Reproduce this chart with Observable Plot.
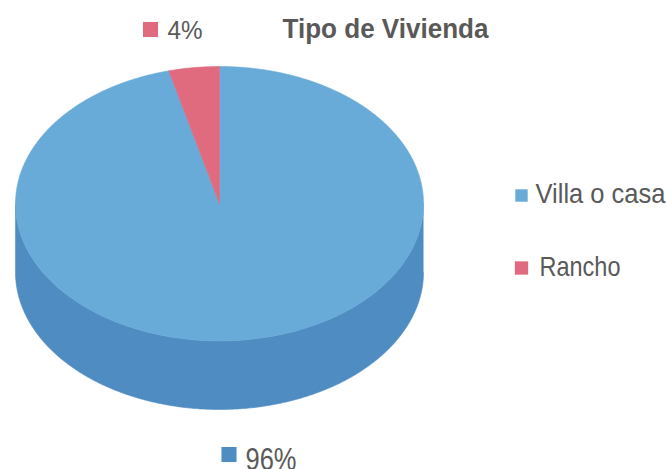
<!DOCTYPE html>
<html><head><meta charset="utf-8">
<script src="https://cdn.jsdelivr.net/npm/d3@7"></script>
<script src="https://cdn.jsdelivr.net/npm/@observablehq/plot@0.6"></script>
<style>
body{margin:0;background:#fff;}
#chart{width:666px;height:469px;}
</style></head><body><div id="chart"></div>
<script>
const title = "Tipo de Vivienda";
const categories = ["Villa o casa", "Rancho"];
const values = [96, 4];
const topColors = ["#68abd9", "#e06b7e"];
const sideColors = ["#4f8cc2", "#b8505f"];
const textColor = "#595959";
const font = '"Liberation Sans","Arial",sans-serif';

const depth = 0.5;
const arcs = d3.pie().sort(null)(values);
const topPts = [], sidePts = [];
arcs.forEach((a, i) => {
  const n = Math.max(2, Math.ceil((a.endAngle - a.startAngle) / 0.01));
  topPts.push({id: i, x: 0, y: 0, fill: topColors[i]});
  for (let k = 0; k <= n; k++) {
    const t = a.startAngle + (a.endAngle - a.startAngle) * k / n;
    topPts.push({id: i, x: Math.sin(t), y: Math.cos(t), fill: topColors[i]});
  }
  topPts.push({id: i, x: 0, y: 0, fill: topColors[i]});
  const s = Math.max(a.startAngle, Math.PI / 2), e = Math.min(a.endAngle, 3 * Math.PI / 2);
  if (s < e) {
    const m = Math.ceil((e - s) / 0.01);
    for (let k = 0; k <= m; k++) {
      const t = s + (e - s) * k / m;
      sidePts.push({id: i, x: Math.sin(t), y: Math.cos(t), fill: sideColors[i]});
    }
    for (let k = m; k >= 0; k--) {
      const t = s + (e - s) * k / m;
      sidePts.push({id: i, x: Math.sin(t), y: Math.cos(t) - depth, fill: sideColors[i]});
    }
  }
});

const widths = new Map();
// narrow (condensed) text: width to squeeze each label into
const label = (text, dx, dy, width, opts = {}) => {
  widths.set(text, width);
  return Plot.text([text], {text: d => d, frameAnchor: "top-left", dx, dy, textAnchor: "start",
    lineAnchor: "bottom", fill: textColor, fontFamily: font, fontSize: 27, ...opts});
};
const swatch = (color, dx, dy, r) =>
  Plot.dot([0], {frameAnchor: "top-left", dx, dy, symbol: "square", r, fill: color, stroke: "none"});

const chart = Plot.plot({
  width: 666, height: 469, margin: 0,
  x: {domain: [-1, 1], range: [15, 423], axis: null},
  y: {domain: [-1 - depth, 1], range: [409, 66], axis: null},
  color: {type: "identity"},
  marks: [
    Plot.line(sidePts, {x: "x", y: "y", z: "id", fill: "fill", stroke: "fill", strokeWidth: 0.6, curve: "linear"}),
    Plot.line(topPts, {x: "x", y: "y", z: "id", fill: "fill", stroke: "fill", strokeWidth: 0.6, curve: "linear"}),
    swatch(topColors[1], 150, 29, 8.5),
    label(`${values[1]}%`, 167, 38, 35, {fontSize: 26}),
    label(title, 282, 37, 206, {fontWeight: "bold", fontSize: 28}),
    swatch(topColors[0], 521, 195, 7),
    label(categories[0], 535, 202, 130, {fontSize: 28}),
    swatch(topColors[1], 521, 267.5, 7.5),
    label(categories[1], 539, 275, 81, {fontSize: 28}),
    swatch(sideColors[0], 228.5, 454, 8.5),
    label(`${values[0]}%`, 245, 469, 51, {fontSize: 31})
  ]
});
// apply condensed widths
chart.querySelectorAll("text").forEach(t => {
  const w = widths.get(t.textContent);
  if (w) {
    t.setAttribute("textLength", w);
    t.setAttribute("lengthAdjust", "spacingAndGlyphs");
  }
});
document.getElementById("chart").appendChild(chart);
</script>
</body></html>
